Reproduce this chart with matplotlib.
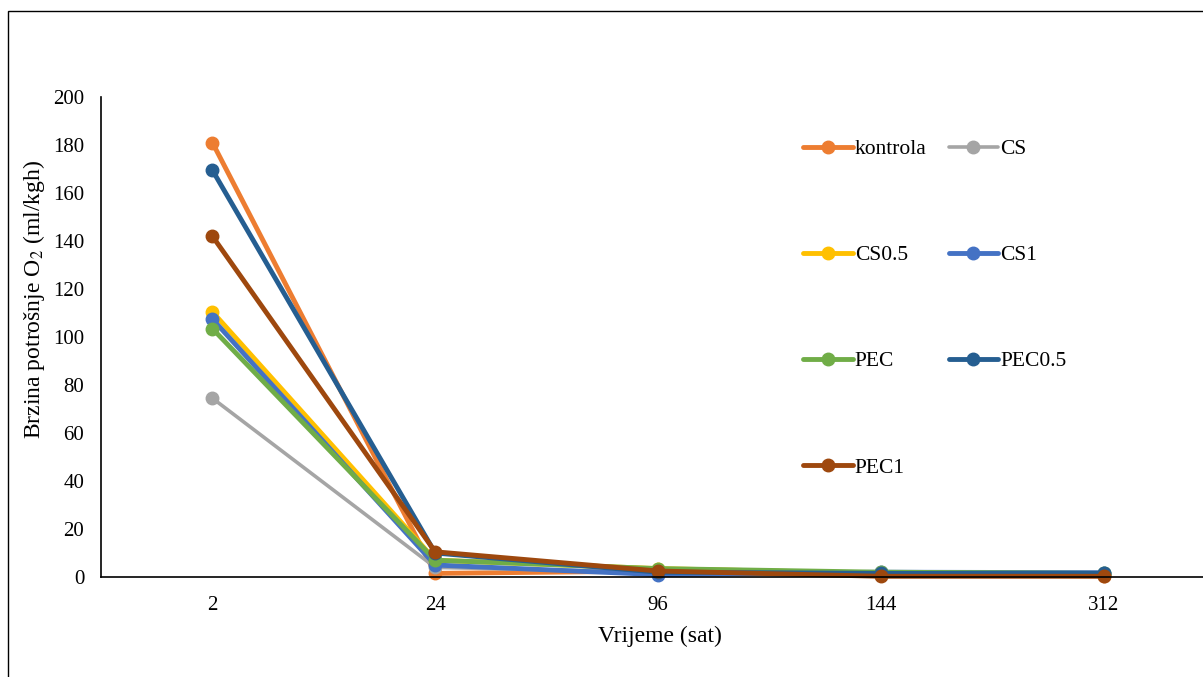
import matplotlib.pyplot as plt
from matplotlib.patches import Rectangle

plt.rcParams['font.family'] = ['Liberation Serif', 'DejaVu Serif']
plt.rcParams['mathtext.fontset'] = 'stix'

# Data
categories = ['2', '24', '96', '144', '312']
kontrola = [181, 1.5, 2.5, 1.0, 0.5]
cs = [74.5, 4.0, 2.0, 1.5, 1.0]
cs05 = [110.5, 7.0, 3.5, 1.5, 1.0]
cs1 = [107.5, 5.0, 1.0, 2.0, 1.8]
pec = [103.5, 7.0, 3.5, 2.0, 1.5]
pec05 = [169.5, 10.0, 2.0, 1.5, 1.5]
pec1 = [142, 10.5, 2.5, 0.3, 0.3]

names = ['kontrola', 'CS', 'CS0.5', 'CS1', 'PEC', 'PEC0.5', 'PEC1']
series = [kontrola, cs, cs05, cs1, pec, pec05, pec1]
colors = ['#ED7D31', '#A5A5A5', '#FFC000', '#4472C4', '#70AD47', '#255E91', '#9E480E']

W, H = 1203, 677
fig = plt.figure(figsize=(W / 100, H / 100), dpi=100)
ax = fig.add_axes([101 / W, 1 - 577 / H, 1114 / W, 480 / H])

x = range(len(categories))
lines = {}
for name, vals, c in zip(names, series, colors):
    lw = 2.6 if name == 'CS' else 3.5
    ln, = ax.plot(x, vals, color=c, lw=lw, marker='o', ms=9, label=name,
                  solid_capstyle='round', clip_on=False)
    lines[name] = ln

ax.set_xlim(-0.5, 4.5)
ax.set_ylim(0, 200)
ax.set_yticks(range(0, 201, 20))
ax.set_xticks(list(x))
ax.set_xticklabels(categories)
ax.tick_params(length=0, labelsize=15)
ax.tick_params(axis='x', pad=14)
ax.tick_params(axis='y', pad=12)
for s in ['top', 'right']:
    ax.spines[s].set_visible(False)
for s in ['left', 'bottom']:
    ax.spines[s].set_linewidth(1.2)
    ax.spines[s].set_color('black')

fig.text(34 / W, 1 - 299 / H, 'Brzina potrošnje O$_{2}$ (ml/kgh)', rotation=90,
         ha='center', va='center', fontsize=17)
fig.text(660 / W, 1 - 636 / H, 'Vrijeme (sat)', ha='center', va='center', fontsize=17)

# legend laid out row-wise like the original (two columns)
order = ['kontrola', 'CS0.5', 'PEC', 'PEC1', 'CS', 'CS1', 'PEC0.5']
ax.legend([lines[n] for n in order], order, ncol=2, frameon=False,
          loc='upper left', bbox_to_anchor=(803 / W, 1 - 139 / H),
          bbox_transform=fig.transFigure, borderpad=0, borderaxespad=0,
          fontsize=15.5, labelspacing=4.0, handlelength=2.3,
          handletextpad=0.1, columnspacing=1.03)

# outer frame (only left and top visible in the original crop)
fig.patches.append(Rectangle((8 / W, -0.1), 1.2, 1.1 - 11 / H, transform=fig.transFigure,
                             fill=False, edgecolor='black', lw=1.0))

fig.savefig('out.png', dpi=100)
